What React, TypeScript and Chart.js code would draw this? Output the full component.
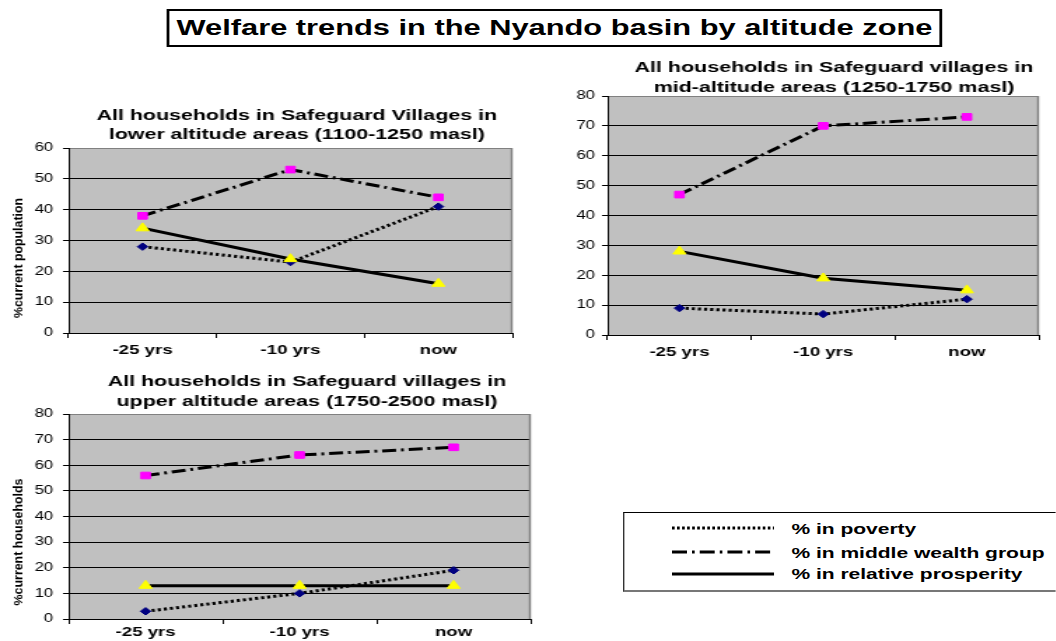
import React, { useEffect, useRef } from "react";
import { Chart, registerables } from "chart.js";

Chart.register(...registerables);

// ---------- data ----------
const categories = ["-25 yrs", "-10 yrs", "now"];
const seriesNames = ["% in poverty", "% in middle wealth group", "% in relative prosperity"];
const mainTitle = "Welfare trends in the Nyando basin by altitude zone";

const lowerTitle = ["All households in Safeguard Villages in", "lower altitude areas (1100-1250 masl)"];
const lowerPoverty = [28, 23, 41];
const lowerMiddle = [38, 53, 44];
const lowerProsperity = [34, 24, 16];
const lowerYMax = 60;
const lowerYTitle = "%current population";

const midTitle = ["All households in Safeguard villages in", "mid-altitude areas (1250-1750 masl)"];
const midPoverty = [9, 7, 12];
const midMiddle = [47, 70, 73];
const midProsperity = [28, 19, 15];
const midYMax = 80;

const upperTitle = ["All households in Safeguard villages in", "upper altitude areas (1750-2500 masl)"];
const upperPoverty = [3, 10, 19];
const upperMiddle = [56, 64, 67];
const upperProsperity = [13, 13, 13];
const upperYMax = 80;
const upperYTitle = "%current households";

const yStep = 10;

// ---------- styles ----------
const STRETCH = 1.4;
const FONT = "'Liberation Sans', Arial, Helvetica, sans-serif";
const DOT_DASH = [2.2, 2.2];
const DASH_DOT = [10, 3.5, 2, 3.5];

const decorPlugin = {
  id: "panelDecor",
  beforeDraw(chart: any) {
    const { ctx, chartArea: a } = chart;
    ctx.save();
    ctx.fillStyle = "#C0C0C0";
    ctx.fillRect(a.left, a.top, a.right - a.left, a.bottom - a.top);
    ctx.restore();
  },
  beforeDatasetsDraw(chart: any) {
    const { ctx, chartArea: a } = chart;
    ctx.save();
    ctx.strokeStyle = "#808080";
    ctx.lineWidth = 1.5;
    ctx.beginPath();
    ctx.moveTo(a.right - 0.5, a.top);
    ctx.lineTo(a.right - 0.5, a.bottom);
    ctx.stroke();
    ctx.restore();
  },
  afterDraw(chart: any, _args: any, opts: any) {
    const { ctx } = chart;
    ctx.save();
    ctx.fillStyle = "#000";
    ctx.font = `bold 15.3px ${FONT}`;
    ctx.textAlign = "center";
    ctx.textBaseline = "middle";
    (opts.lines || []).forEach((l: string, i: number) => {
      ctx.fillText(l, opts.x, opts.y + i * opts.gap);
    });
    if (opts.yTitle) {
      ctx.translate(opts.yTitleX, opts.yTitleY);
      ctx.rotate(-Math.PI / 2);
      ctx.font = `bold 8.5px ${FONT}`;
      const w = ctx.measureText(opts.yTitle).width;
      ctx.scale(opts.yTitleLen / w, 1);
      ctx.fillText(opts.yTitle, 0, 0);
    }
    ctx.restore();
  },
};

type PanelProps = {
  poverty: number[];
  middle: number[];
  prosperity: number[];
  yMax: number;
  title: string[];
  yTitle?: string;
  left: number;
  top: number;
  width: number;
  height: number;
  yAxisWidth: number;
  xAxisHeight: number;
  padTop: number;
  padRight: number;
  yTickPad: number;
  xTickPad: number;
  titleX: number;
  titleY: number;
  titleGap: number;
  yTitleX?: number;
  yTitleY?: number;
  yTitleLen?: number;
};

function Panel(p: PanelProps) {
  const ref = useRef<HTMLCanvasElement | null>(null);
  useEffect(() => {
    if (!ref.current) return;
    const chart = new Chart(ref.current, {
      type: "line",
      data: {
        labels: categories,
        datasets: [
          {
            label: seriesNames[0],
            data: p.poverty,
            borderColor: "#000",
            borderWidth: 3,
            borderDash: DOT_DASH,
            borderCapStyle: "butt",
            pointStyle: "rectRot",
            pointRadius: 3.7,
            pointBackgroundColor: "#000080",
            pointBorderColor: "#000080",
            pointBorderWidth: 1,
            tension: 0,
            fill: false,
            order: 3,
          },
          {
            label: seriesNames[1],
            data: p.middle,
            borderColor: "#000",
            borderWidth: 3,
            borderDash: DASH_DOT,
            borderCapStyle: "butt",
            pointStyle: "rect",
            pointRadius: 4.7,
            pointBackgroundColor: "#FF00FF",
            pointBorderColor: "#FF00FF",
            pointBorderWidth: 1,
            tension: 0,
            fill: false,
            order: 2,
          },
          {
            label: seriesNames[2],
            data: p.prosperity,
            borderColor: "#000",
            borderWidth: 3,
            pointStyle: "triangle",
            pointRadius: 5.3,
            pointBackgroundColor: "#FFFF00",
            pointBorderColor: "#FFFF00",
            pointBorderWidth: 1,
            tension: 0,
            fill: false,
            order: 1,
          },
        ],
      },
      options: {
        animation: false,
        responsive: false,
        maintainAspectRatio: false,
        devicePixelRatio: 1,
        layout: { padding: { top: p.padTop, right: p.padRight, left: 0, bottom: 0 } },
        plugins: {
          legend: { display: false },
          tooltip: { enabled: false },
          title: { display: false },
          panelDecor: {
            lines: p.title,
            x: p.titleX,
            y: p.titleY,
            gap: p.titleGap,
            yTitle: p.yTitle,
            yTitleX: p.yTitleX,
            yTitleY: p.yTitleY,
            yTitleLen: p.yTitleLen,
          },
        } as any,
        scales: {
          x: {
            type: "category",
            offset: true,
            grid: {
              offset: true,
              drawOnChartArea: false,
              drawTicks: true,
              tickLength: 5,
              color: "#000",
              lineWidth: 1,
            },
            border: { display: true, color: "#000", width: 1 },
            ticks: {
              color: "#000",
              font: { family: FONT, size: 13.3, weight: "bold" },
              padding: p.xTickPad,
              maxRotation: 0,
              minRotation: 0,
              autoSkip: false,
            },
            afterFit: (s: any) => {
              s.height = p.xAxisHeight;
            },
          },
          y: {
            min: 0,
            max: p.yMax,
            ticks: {
              stepSize: yStep,
              color: "#000",
              font: { family: FONT, size: 12 },
              padding: p.yTickPad,
            },
            grid: {
              color: (c: any) => (c.tick && c.tick.value === p.yMax ? "#808080" : "#000"),
              tickColor: "#000",
              lineWidth: 1,
              tickLength: 4,
              drawTicks: true,
            },
            border: { display: true, color: "#000", width: 1 },
            afterFit: (s: any) => {
              s.width = p.yAxisWidth;
            },
          },
        },
      },
      plugins: [decorPlugin as any],
    });
    return () => chart.destroy();
  }, []);
  return (
    <canvas
      ref={ref}
      width={p.width}
      height={p.height}
      style={{ position: "absolute", left: p.left, top: p.top, width: p.width, height: p.height }}
    />
  );
}

function LegendSample({ dash }: { dash?: string }) {
  return (
    <svg width={73} height={6} style={{ display: "block" }}>
      <line x1={0} y1={3} x2={73} y2={3} stroke="#000" strokeWidth={3} strokeDasharray={dash} />
    </svg>
  );
}

export default function App() {
  const rows = [
    { name: seriesNames[0], dash: "1.9 1.7", lineY: 16, textY: 17 },
    { name: seriesNames[1], dash: "10.7 3.6 1.9 3.6", lineY: 40, textY: 41 },
    { name: seriesNames[2], dash: undefined, lineY: 61.5, textY: 62 },
  ];
  return (
    <div
      style={{
        position: "absolute",
        left: 0,
        top: 0,
        width: 1056 / STRETCH,
        height: 641,
        overflow: "hidden",
        background: "#fff",
        transform: `scaleX(${STRETCH})`,
        transformOrigin: "0 0",
        fontFamily: FONT,
      }}
    >
      <div
        style={{
          position: "absolute",
          left: 119.3,
          top: 9,
          width: 553.6,
          height: 38,
          boxSizing: "border-box",
          border: "2px solid #000",
          textAlign: "center",
          fontWeight: "bold",
          fontSize: 22,
          lineHeight: "34px",
          color: "#000",
          whiteSpace: "nowrap",
        }}
      >
        {mainTitle}
      </div>

      <Panel
        poverty={lowerPoverty}
        middle={lowerMiddle}
        prosperity={lowerProsperity}
        yMax={lowerYMax}
        title={lowerTitle}
        yTitle={lowerYTitle}
        left={0}
        top={100}
        width={375}
        height={262}
        yAxisWidth={49}
        xAxisHeight={29}
        padTop={48}
        padRight={9}
        yTickPad={7}
        xTickPad={4}
        titleX={212}
        titleY={15.5}
        titleGap={19.5}
        yTitleX={13.2}
        yTitleY={158}
        yTitleLen={120}
      />

      <Panel
        poverty={midPoverty}
        middle={midMiddle}
        prosperity={midProsperity}
        yMax={midYMax}
        title={midTitle}
        left={400}
        top={50}
        width={354}
        height={315}
        yAxisWidth={34}
        xAxisHeight={30}
        padTop={46}
        padRight={12}
        yTickPad={5}
        xTickPad={4}
        titleX={195.7}
        titleY={18}
        titleGap={20}
      />

      <Panel
        poverty={upperPoverty}
        middle={upperMiddle}
        prosperity={upperProsperity}
        yMax={upperYMax}
        title={upperTitle}
        yTitle={upperYTitle}
        left={0}
        top={365}
        width={392}
        height={276}
        yAxisWidth={49}
        xAxisHeight={22}
        padTop={49}
        padRight={13}
        yTickPad={7}
        xTickPad={0}
        titleX={219.3}
        titleY={17}
        titleGap={20}
        yTitleX={13.2}
        yTitleY={177}
        yTitleLen={127}
      />

      <div
        style={{
          position: "absolute",
          left: 445,
          top: 512,
          width: 330,
          height: 80,
          boxSizing: "border-box",
          borderTop: "1px solid #000",
          borderLeft: "1px solid #333",
          borderBottom: "2px solid #777",
          background: "#fff",
        }}
      >
        {rows.map((r) => (
          <React.Fragment key={r.name}>
            <div style={{ position: "absolute", left: 33.6, top: r.lineY - 3 - 1 }}>
              <LegendSample dash={r.dash} />
            </div>
            <div
              style={{
                position: "absolute",
                left: 119.3,
                top: r.textY - 9 - 1,
                height: 18,
                lineHeight: "18px",
                fontSize: 15,
                fontWeight: "bold",
                color: "#000",
                whiteSpace: "nowrap",
              }}
            >
              {r.name}
            </div>
          </React.Fragment>
        ))}
      </div>
    </div>
  );
}
